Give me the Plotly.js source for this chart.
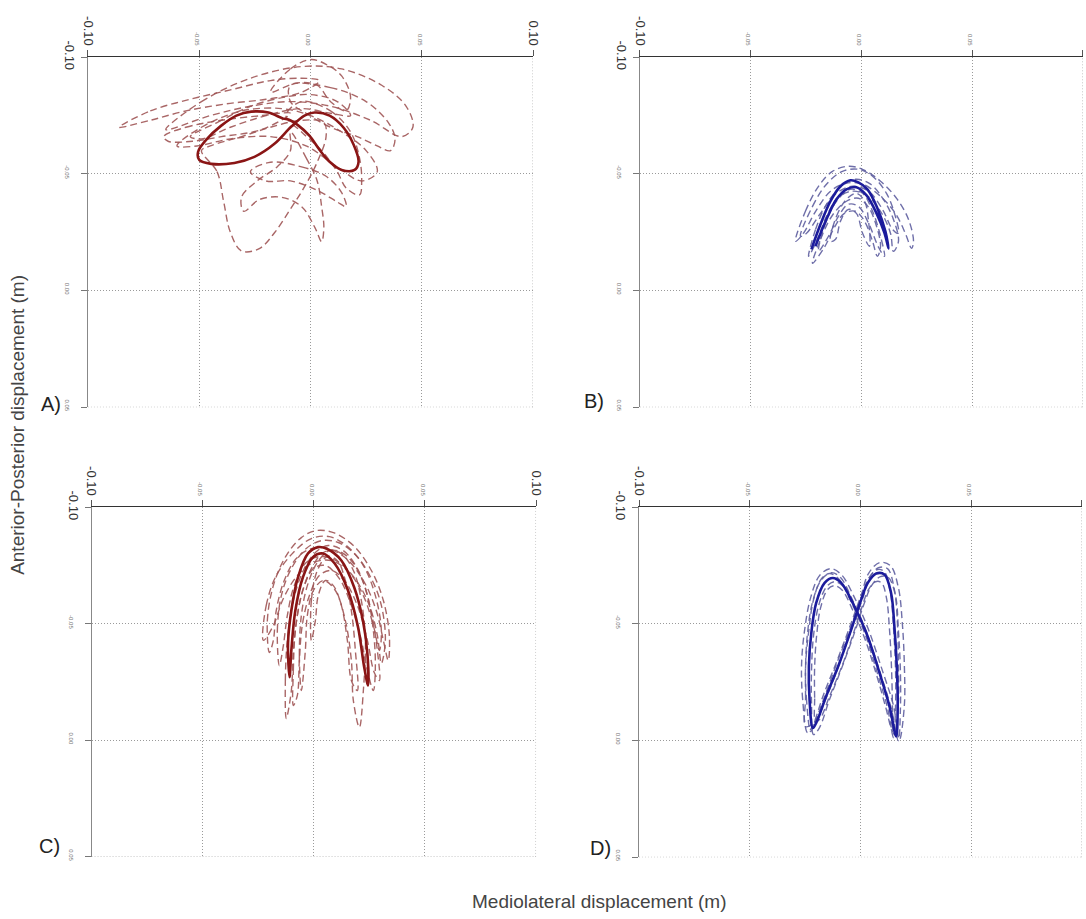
<!DOCTYPE html>
<html><head><meta charset="utf-8">
<script src="https://cdn.plot.ly/plotly-3.0.1.min.js"></script>
<style>html,body{margin:0;padding:0;background:#fff}#chart{width:1086px;height:919px}</style>
</head><body><div id="chart"></div>
<script>
// ---- tick values / labels ----
const xTickVals = [-0.10, -0.05, 0.00, 0.05, 0.10];
const xTickLabels = ['-0.10', '-0.05', '0.00', '0.05', '0.10'];
const yTickVals = [-0.10, -0.05, 0.00, 0.05];
const yTickLabels = ['-0.10', '-0.05', '0.00', '0.05'];

// ---- Panel A (red, mean + trials) ----
const A_mean_x = [-0.0122,-0.0189,-0.0266,-0.0333,-0.0401,-0.0468,-0.0505,-0.0500,-0.0446,-0.0342,-0.0252,-0.0162,-0.0086,-0.0027,0.0018,0.0086,0.0149,0.0194,0.0216,0.0198,0.0140,0.0086,0.0041,-0.0005,-0.0054,-0.0099,-0.0122];
const A_mean_y = [-0.0737,-0.0763,-0.0767,-0.0750,-0.0707,-0.0647,-0.0595,-0.0560,-0.0543,-0.0547,-0.0573,-0.0629,-0.0703,-0.0750,-0.0763,-0.0750,-0.0698,-0.0625,-0.0552,-0.0517,-0.0517,-0.0552,-0.0603,-0.0664,-0.0707,-0.0733,-0.0737];
const A_trials_x = [
 [-0.086,-0.072,-0.054,-0.036,-0.018,-0.004,0.004,-0.004,-0.020,-0.038,-0.056,-0.072,-0.086],
 [-0.065,-0.049,-0.027,-0.004,0.014,0.032,0.043,0.046,0.041,0.027,0.009,-0.009,-0.027,-0.045,-0.065],
 [-0.060,-0.049,-0.031,-0.013,0.000,0.014,0.025,0.030,0.023,0.012,-0.002,-0.018,-0.036,-0.051,-0.060],
 [-0.049,-0.042,-0.039,-0.036,-0.031,-0.023,-0.016,-0.009,-0.003,0.003,0.007,0.006,-0.004,-0.018,-0.031,-0.045,-0.049],
 [-0.009,-0.002,0.003,0.005,0.006,0.005,0.002,-0.004,-0.013,-0.023,-0.030,-0.031,-0.024,-0.015,-0.009,-0.009],
 [-0.004,0.009,0.018,0.022,0.023,0.022,0.016,0.012,0.005,-0.004,-0.011,-0.004],
 [-0.009,0.009,0.025,0.035,0.038,0.036,0.030,0.021,0.009,-0.002,-0.009,-0.009],
 [-0.066,-0.056,-0.040,-0.022,-0.009,-0.022,-0.040,-0.053,-0.064,-0.066],
 [-0.018,-0.009,0.000,0.007,0.014,0.018,0.016,0.009,0.003,-0.006,-0.018],
 [-0.018,-0.004,0.007,0.014,0.016,0.012,0.003,-0.009,-0.020,-0.027,-0.018],
 [-0.054,-0.042,-0.027,-0.011,0.000,0.012,0.018,0.009,-0.004,-0.020,-0.036,-0.049,-0.054]
];
const A_trials_y = [
 [-0.070,-0.077,-0.082,-0.086,-0.090,-0.091,-0.090,-0.085,-0.082,-0.080,-0.077,-0.073,-0.070],
 [-0.069,-0.081,-0.091,-0.096,-0.095,-0.088,-0.079,-0.070,-0.066,-0.073,-0.079,-0.081,-0.079,-0.075,-0.069],
 [-0.062,-0.070,-0.077,-0.078,-0.075,-0.068,-0.060,-0.051,-0.047,-0.053,-0.062,-0.066,-0.065,-0.062,-0.062],
 [-0.060,-0.051,-0.038,-0.025,-0.017,-0.018,-0.025,-0.035,-0.044,-0.055,-0.066,-0.072,-0.073,-0.070,-0.066,-0.062,-0.060],
 [-0.068,-0.057,-0.047,-0.036,-0.027,-0.021,-0.027,-0.036,-0.040,-0.039,-0.034,-0.040,-0.047,-0.053,-0.060,-0.068],
 [-0.081,-0.077,-0.068,-0.057,-0.047,-0.041,-0.044,-0.051,-0.060,-0.068,-0.075,-0.081],
 [-0.088,-0.087,-0.081,-0.072,-0.065,-0.060,-0.062,-0.066,-0.070,-0.076,-0.081,-0.088],
 [-0.066,-0.070,-0.073,-0.075,-0.076,-0.069,-0.066,-0.064,-0.064,-0.066],
 [-0.085,-0.095,-0.099,-0.097,-0.092,-0.083,-0.077,-0.081,-0.088,-0.089,-0.085],
 [-0.055,-0.053,-0.049,-0.042,-0.036,-0.038,-0.043,-0.047,-0.047,-0.051,-0.055],
 [-0.066,-0.072,-0.079,-0.083,-0.084,-0.081,-0.075,-0.076,-0.078,-0.075,-0.070,-0.065,-0.066]
];

// ---- Panel B (blue) ----
const B_mean_x = [-0.0226,-0.0185,-0.0140,-0.0095,-0.0050,-0.0014,0.0027,0.0072,0.0108,0.0122,0.0104,0.0068,0.0023,-0.0023,-0.0068,-0.0113,-0.0158,-0.0208];
const B_mean_y = [-0.0177,-0.0284,-0.0383,-0.0447,-0.0473,-0.0464,-0.0434,-0.0353,-0.0254,-0.0181,-0.0246,-0.0331,-0.0408,-0.0443,-0.0434,-0.0391,-0.0306,-0.0190];
const B_trials_x = [
 [-0.0298,-0.0253,-0.0194,-0.0131,-0.0059,0.0005,0.0086,0.0162,0.0212,0.0235,0.0226,0.0198,0.0153,0.0086,0.0005,-0.0072,-0.0140,-0.0207,-0.0262,-0.0298],
 [-0.0239,-0.0207,-0.0158,-0.0095,-0.0027,0.0041,0.0099,0.0144,0.0167,0.0144,0.0131,0.0086,0.0023,-0.0041,-0.0104,-0.0158,-0.0203,-0.0239],
 [-0.0221,-0.0185,-0.0131,-0.0068,-0.0014,0.0032,0.0068,0.0086,0.0072,0.0050,0.0014,-0.0027,-0.0077,-0.0122,-0.0167,-0.0221],
 [-0.0275,-0.0221,-0.0158,-0.0086,-0.0014,0.0050,0.0113,0.0153,0.0167,0.0140,0.0095,0.0032,-0.0041,-0.0113,-0.0185,-0.0248,-0.0275],
 [-0.0194,-0.0167,-0.0113,-0.0050,0.0005,0.0050,0.0086,0.0104,0.0077,0.0032,-0.0014,-0.0059,-0.0104,-0.0149,-0.0194],
 [-0.0140,-0.0113,-0.0068,-0.0023,0.0014,0.0032,0.0036,0.0005,-0.0023,-0.0059,-0.0095,-0.0117,-0.0140]
];
const B_trials_y = [
 [-0.0211,-0.0340,-0.0447,-0.0511,-0.0533,-0.0520,-0.0469,-0.0391,-0.0306,-0.0211,-0.0181,-0.0246,-0.0331,-0.0404,-0.0456,-0.0460,-0.0426,-0.0340,-0.0246,-0.0211],
 [-0.0147,-0.0263,-0.0370,-0.0443,-0.0477,-0.0456,-0.0391,-0.0306,-0.0211,-0.0168,-0.0246,-0.0340,-0.0408,-0.0426,-0.0400,-0.0318,-0.0211,-0.0147],
 [-0.0117,-0.0220,-0.0323,-0.0383,-0.0396,-0.0357,-0.0276,-0.0190,-0.0147,-0.0211,-0.0297,-0.0340,-0.0331,-0.0271,-0.0186,-0.0117],
 [-0.0233,-0.0361,-0.0456,-0.0511,-0.0520,-0.0490,-0.0417,-0.0318,-0.0246,-0.0263,-0.0348,-0.0426,-0.0447,-0.0417,-0.0331,-0.0246,-0.0233],
 [-0.0168,-0.0276,-0.0383,-0.0434,-0.0417,-0.0340,-0.0233,-0.0147,-0.0186,-0.0289,-0.0361,-0.0370,-0.0318,-0.0233,-0.0168],
 [-0.0211,-0.0318,-0.0391,-0.0417,-0.0383,-0.0297,-0.0190,-0.0246,-0.0331,-0.0348,-0.0297,-0.0220,-0.0211]
];

// ---- Panel C (red) ----
const C_mean_x = [-0.0109,-0.0116,-0.0101,-0.0071,-0.0026,0.0019,0.0056,0.0124,0.0182,0.0221,0.0241,0.0244,0.0227,0.0199,0.0154,0.0094,0.0041,-0.0004,-0.0049,-0.0083,-0.0101,-0.0109];
const C_mean_y = [-0.0271,-0.0416,-0.0557,-0.0700,-0.0802,-0.0829,-0.0823,-0.0772,-0.0656,-0.0514,-0.0373,-0.0236,-0.0313,-0.0486,-0.0643,-0.0759,-0.0802,-0.0786,-0.0700,-0.0557,-0.0386,-0.0271];
const C_trials_x = [
 [-0.0200,-0.0209,-0.0182,-0.0124,-0.0056,0.0011,0.0088,0.0178,0.0259,0.0313,0.0340,0.0335,0.0313,0.0281,0.0223,0.0146,0.0065,-0.0011,-0.0079,-0.0133,-0.0169,-0.0182,-0.0200],
 [-0.0124,-0.0128,-0.0119,-0.0092,-0.0047,0.0007,0.0065,0.0133,0.0196,0.0241,0.0268,0.0277,0.0268,0.0241,0.0214,0.0169,0.0115,0.0052,-0.0002,-0.0043,-0.0074,-0.0092,-0.0101,-0.0124],
 [-0.0092,-0.0092,-0.0083,-0.0056,-0.0011,0.0043,0.0106,0.0169,0.0223,0.0259,0.0286,0.0295,0.0272,0.0241,0.0196,0.0137,0.0079,0.0025,-0.0020,-0.0052,-0.0065,-0.0074,-0.0092],
 [-0.0056,-0.0065,-0.0056,-0.0029,0.0016,0.0070,0.0124,0.0178,0.0214,0.0232,0.0223,0.0205,0.0178,0.0169,0.0142,0.0097,0.0043,-0.0002,-0.0029,-0.0038,-0.0056],
 [-0.0155,-0.0164,-0.0146,-0.0101,-0.0034,0.0034,0.0110,0.0191,0.0259,0.0304,0.0322,0.0304,0.0286,0.0250,0.0191,0.0115,0.0034,-0.0034,-0.0088,-0.0119,-0.0137,-0.0155],
 [-0.0011,-0.0011,0.0016,0.0061,0.0106,0.0142,0.0169,0.0187,0.0196,0.0169,0.0151,0.0124,0.0088,0.0052,0.0020,0.0007,-0.0011],
 [-0.0227,-0.0214,-0.0169,-0.0092,-0.0011,0.0070,0.0146,0.0223,0.0277,0.0304,0.0295,0.0268,0.0223,0.0160,0.0079,-0.0002,-0.0074,-0.0137,-0.0182,-0.0227]
];
const C_trials_y = [
 [-0.0377,-0.0514,-0.0664,-0.0793,-0.0870,-0.0900,-0.0891,-0.0836,-0.0729,-0.0600,-0.0450,-0.0343,-0.0429,-0.0557,-0.0686,-0.0780,-0.0823,-0.0823,-0.0780,-0.0686,-0.0557,-0.0429,-0.0377],
 [-0.0094,-0.0257,-0.0429,-0.0600,-0.0729,-0.0806,-0.0836,-0.0814,-0.0737,-0.0621,-0.0471,-0.0321,-0.0214,-0.0300,-0.0429,-0.0579,-0.0694,-0.0750,-0.0737,-0.0664,-0.0536,-0.0386,-0.0214,-0.0094],
 [-0.0150,-0.0300,-0.0471,-0.0621,-0.0737,-0.0806,-0.0814,-0.0771,-0.0677,-0.0549,-0.0386,-0.0257,-0.0291,-0.0429,-0.0579,-0.0686,-0.0729,-0.0707,-0.0621,-0.0493,-0.0343,-0.0193,-0.0150],
 [-0.0214,-0.0364,-0.0536,-0.0664,-0.0763,-0.0814,-0.0801,-0.0729,-0.0600,-0.0429,-0.0214,-0.0056,-0.0171,-0.0343,-0.0514,-0.0643,-0.0686,-0.0643,-0.0536,-0.0386,-0.0214],
 [-0.0321,-0.0471,-0.0621,-0.0737,-0.0823,-0.0857,-0.0849,-0.0793,-0.0694,-0.0579,-0.0429,-0.0330,-0.0450,-0.0579,-0.0686,-0.0763,-0.0789,-0.0763,-0.0664,-0.0536,-0.0407,-0.0321],
 [-0.0429,-0.0600,-0.0729,-0.0789,-0.0771,-0.0686,-0.0557,-0.0386,-0.0214,-0.0257,-0.0429,-0.0579,-0.0664,-0.0686,-0.0621,-0.0514,-0.0429],
 [-0.0429,-0.0579,-0.0707,-0.0806,-0.0866,-0.0874,-0.0836,-0.0750,-0.0621,-0.0471,-0.0386,-0.0493,-0.0621,-0.0720,-0.0771,-0.0763,-0.0707,-0.0609,-0.0493,-0.0429]
];

// ---- Panel D (blue) ----
const D_mean_x = [-0.0215,-0.0230,-0.0233,-0.0222,-0.0200,-0.0162,-0.0125,-0.0087,-0.0035,0.0026,0.0086,0.0131,0.0161,0.0168,0.0164,0.0153,0.0138,0.0108,0.0071,0.0033,0.0003,-0.0042,-0.0095,-0.0155,-0.0200,-0.0215];
const D_mean_y = [-0.0054,-0.0176,-0.0318,-0.0462,-0.0590,-0.0676,-0.0697,-0.0676,-0.0590,-0.0462,-0.0290,-0.0147,-0.0018,-0.0147,-0.0318,-0.0490,-0.0633,-0.0712,-0.0716,-0.0676,-0.0604,-0.0476,-0.0333,-0.0190,-0.0076,-0.0054];
const D_trials_x = [
 [-0.0239,-0.0261,-0.0266,-0.0252,-0.0225,-0.0185,-0.0135,-0.0086,-0.0027,0.0036,0.0099,0.0149,0.0176,0.0198,0.0198,0.0189,0.0171,0.0135,0.0086,0.0036,0.0005,-0.0045,-0.0104,-0.0167,-0.0216,-0.0239],
 [-0.0203,-0.0207,-0.0207,-0.0198,-0.0180,-0.0149,-0.0117,-0.0081,-0.0036,0.0018,0.0072,0.0113,0.0144,0.0144,0.0140,0.0131,0.0117,0.0095,0.0068,0.0036,0.0009,-0.0032,-0.0081,-0.0140,-0.0185,-0.0203],
 [-0.0225,-0.0243,-0.0248,-0.0234,-0.0212,-0.0176,-0.0140,-0.0099,-0.0045,0.0018,0.0077,0.0122,0.0149,0.0158,0.0158,0.0149,0.0135,0.0108,0.0077,0.0036,0.0005,-0.0045,-0.0104,-0.0162,-0.0212,-0.0225],
 [-0.0212,-0.0221,-0.0221,-0.0212,-0.0189,-0.0153,-0.0117,-0.0077,-0.0027,0.0032,0.0095,0.0140,0.0171,0.0180,0.0180,0.0171,0.0158,0.0126,0.0090,0.0050,0.0018,-0.0027,-0.0081,-0.0140,-0.0185,-0.0212],
 [-0.0248,-0.0248,-0.0248,-0.0239,-0.0216,-0.0176,-0.0131,-0.0090,-0.0041,0.0023,0.0081,0.0126,0.0153,0.0171,0.0171,0.0167,0.0153,0.0122,0.0081,0.0041,0.0014,-0.0036,-0.0090,-0.0149,-0.0207,-0.0248]
];
const D_trials_y = [
 [-0.0034,-0.0176,-0.0326,-0.0476,-0.0613,-0.0707,-0.0737,-0.0711,-0.0613,-0.0476,-0.0300,-0.0150,-0.0004,-0.0150,-0.0326,-0.0501,-0.0656,-0.0750,-0.0763,-0.0716,-0.0630,-0.0497,-0.0347,-0.0197,-0.0064,-0.0034],
 [-0.0081,-0.0184,-0.0317,-0.0450,-0.0570,-0.0647,-0.0664,-0.0643,-0.0561,-0.0441,-0.0283,-0.0146,-0.0039,-0.0154,-0.0313,-0.0476,-0.0613,-0.0677,-0.0681,-0.0647,-0.0579,-0.0459,-0.0326,-0.0189,-0.0090,-0.0081],
 [-0.0039,-0.0167,-0.0313,-0.0467,-0.0604,-0.0694,-0.0716,-0.0694,-0.0600,-0.0463,-0.0287,-0.0141,-0.0013,-0.0141,-0.0313,-0.0484,-0.0634,-0.0724,-0.0733,-0.0694,-0.0617,-0.0484,-0.0339,-0.0189,-0.0064,-0.0039],
 [-0.0026,-0.0159,-0.0304,-0.0450,-0.0579,-0.0660,-0.0681,-0.0660,-0.0579,-0.0450,-0.0274,-0.0133,0.0000,-0.0129,-0.0304,-0.0476,-0.0621,-0.0699,-0.0703,-0.0664,-0.0591,-0.0463,-0.0321,-0.0176,-0.0056,-0.0026],
 [-0.0060,-0.0184,-0.0321,-0.0463,-0.0596,-0.0690,-0.0720,-0.0699,-0.0613,-0.0476,-0.0304,-0.0159,-0.0026,-0.0163,-0.0330,-0.0497,-0.0647,-0.0737,-0.0741,-0.0699,-0.0621,-0.0489,-0.0343,-0.0197,-0.0081,-0.0060]
];

// ---- styling ----
const FONT = 'Liberation Sans, Arial, sans-serif';
const RED_SOLID = '#8a1515', RED_DASH = 'rgba(160,85,85,0.9)';
const BLUE_SOLID = '#1c1c9c', BLUE_DASH = 'rgba(95,95,160,0.9)';
const GRID_COLOR = '#9a9a9a', GRID_DASH = '1px,2px';

function tickText(labels, bigIdx) {
  return labels.map((t, i) => bigIdx.includes(i) ? t :
    '<span style="font-size:6px;fill:#777">' + t + '</span>');
}

const traces = [];
function addPanel(tx, ty, mx, my, xa, ya, dashCol, solidCol) {
  tx.forEach((xs, i) => traces.push({
    type: 'scatter', mode: 'lines', x: xs, y: ty[i], xaxis: xa, yaxis: ya,
    line: {color: dashCol, width: 1.4, dash: '7px,4px', shape: 'spline', smoothing: 1},
    hoverinfo: 'skip'
  }));
  traces.push({
    type: 'scatter', mode: 'lines', x: mx, y: my, xaxis: xa, yaxis: ya,
    line: {color: solidCol, width: 2.6, shape: 'spline', smoothing: 1},
    hoverinfo: 'skip'
  });
}
addPanel(A_trials_x, A_trials_y, A_mean_x, A_mean_y, 'x', 'y', RED_DASH, RED_SOLID);
addPanel(B_trials_x, B_trials_y, B_mean_x, B_mean_y, 'x2', 'y2', BLUE_DASH, BLUE_SOLID);
addPanel(C_trials_x, C_trials_y, C_mean_x, C_mean_y, 'x3', 'y3', RED_DASH, RED_SOLID);
addPanel(D_trials_x, D_trials_y, D_mean_x, D_mean_y, 'x4', 'y4', BLUE_DASH, BLUE_SOLID);

function xAxis(domain, anchor) {
  return {
    domain: domain, anchor: anchor, side: 'top', range: [-0.10, 0.10], autorange: false,
    tickmode: 'array', tickvals: xTickVals, ticktext: tickText(xTickLabels, [0, 4]),
    tickangle: 90, ticks: 'outside', ticklen: 6, tickcolor: '#555', tickwidth: 1,
    showline: true, linecolor: '#333', linewidth: 1, mirror: false,
    showgrid: true, gridcolor: GRID_COLOR, gridwidth: 1, griddash: GRID_DASH,
    zeroline: false, tickfont: {family: FONT, size: 13, color: '#333'}, fixedrange: true
  };
}
function yAxis(domain, anchor) {
  return {
    domain: domain, anchor: anchor, range: [0.05, -0.10], autorange: false,
    tickmode: 'array', tickvals: yTickVals, ticktext: tickText(yTickLabels, [0]),
    tickangle: 90, ticks: 'outside', ticklen: 6, tickcolor: '#777', tickwidth: 1,
    showline: true, linecolor: '#888', linewidth: 1, mirror: false,
    showgrid: true, gridcolor: GRID_COLOR, gridwidth: 1, griddash: GRID_DASH,
    zeroline: false, tickfont: {family: FONT, size: 13, color: '#333'}, fixedrange: true
  };
}

// edge grid lines (at x = 0.10 and y = 0.05) that Plotly omits at the range ends
const shapes = [];
['', '2', '3', '4'].forEach(s => {
  const xr = 'x' + s, yr = 'y' + s;
  shapes.push({type: 'line', xref: xr, yref: yr + ' domain', x0: xTickVals[4], x1: xTickVals[4], y0: 0, y1: 1,
    line: {color: GRID_COLOR, width: 1, dash: GRID_DASH}, layer: 'below'});
  shapes.push({type: 'line', xref: xr + ' domain', yref: yr, x0: 0, x1: 1, y0: yTickVals[3], y1: yTickVals[3],
    line: {color: GRID_COLOR, width: 1, dash: GRID_DASH}, layer: 'below'});
});

function ann(text, x, y, size, color, extra) {
  return Object.assign({text: text, x: x, y: y, xref: 'paper', yref: 'paper', showarrow: false,
    xanchor: 'center', yanchor: 'middle', font: {family: FONT, size: size, color: color}}, extra || {});
}

const layout = {
  width: 1086, height: 919,
  margin: {l: 0, r: 0, t: 0, b: 0, pad: 0},
  paper_bgcolor: '#ffffff', plot_bgcolor: '#ffffff',
  showlegend: false,
  xaxis: xAxis([0.0810, 0.4908], 'y'),
  yaxis: yAxis([0.5568, 0.9377], 'x'),
  xaxis2: xAxis([0.5893, 0.9972], 'y2'),
  yaxis2: yAxis([0.5568, 0.9377], 'x2'),
  xaxis3: xAxis([0.0843, 0.4936], 'y3'),
  yaxis3: yAxis([0.0675, 0.4480], 'x3'),
  xaxis4: xAxis([0.5884, 0.9963], 'y4'),
  yaxis4: yAxis([0.0671, 0.4480], 'x4'),
  shapes: shapes,
  annotations: [
    ann('A)', 0.047, 0.5604, 20, '#222'),
    ann('B)', 0.547, 0.5637, 20, '#222'),
    ann('C)', 0.046, 0.0794, 20, '#222'),
    ann('D)', 0.5525, 0.0773, 20, '#222'),
    ann('Anterior-Posterior displacement (m)', 0.0155, 0.5375, 19, '#444', {textangle: -90}),
    ann('Mediolateral displacement (m)', 0.552, 0.0185, 19, '#444')
  ]
};

Plotly.newPlot('chart', traces, layout, {staticPlot: true, displayModeBar: false});
</script>
</body></html>
